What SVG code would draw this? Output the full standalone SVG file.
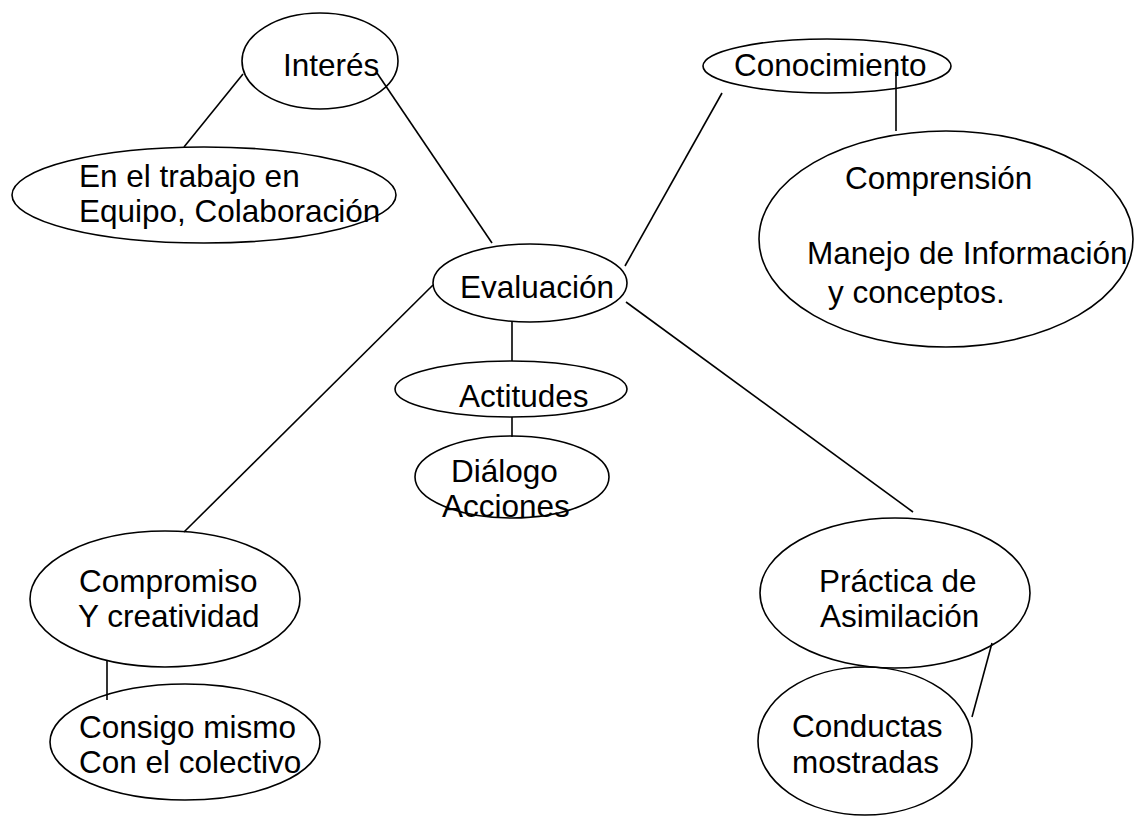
<svg xmlns="http://www.w3.org/2000/svg" width="1134" height="817" viewBox="0 0 1134 817">
<style>
.n ellipse{fill:none;stroke:#000;stroke-width:1.6}
.c line{stroke:#000;stroke-width:1.6}
text{font-family:"Liberation Sans",Arial,sans-serif;font-size:31.5px;fill:#000}
</style>
<rect width="1134" height="817" fill="#fff"/>
<g class="c" id="connectors">
<line x1="243" y1="74" x2="184" y2="147"/>
<line x1="377" y1="73" x2="492" y2="243"/>
<line x1="722" y1="93" x2="625" y2="266"/>
<line x1="896" y1="72" x2="896" y2="131"/>
<line x1="433" y1="285" x2="184" y2="532"/>
<line x1="626" y1="302" x2="913" y2="512"/>
<line x1="512" y1="322" x2="512" y2="361"/>
<line x1="512" y1="417" x2="512" y2="437"/>
<line x1="107" y1="660" x2="107" y2="700"/>
<line x1="992" y1="643" x2="972" y2="717"/>
</g>
<g class="n" id="interes"><ellipse cx="320" cy="61" rx="78" ry="48"/><text x="283" y="76">Interés</text></g>
<g class="n" id="trabajo"><ellipse cx="204" cy="195" rx="192" ry="48"/><text x="79" y="187">En el trabajo en</text><text x="79" y="222">Equipo, Colaboración</text></g>
<g class="n" id="conocimiento"><ellipse cx="827" cy="66" rx="124" ry="27"/><text x="734" y="76">Conocimiento</text></g>
<g class="n" id="comprension"><ellipse cx="946" cy="239" rx="187" ry="108"/><text x="845" y="189">Comprensión</text><text x="807" y="264">Manejo de Información</text><text x="828" y="303">y conceptos.</text></g>
<g class="n" id="evaluacion"><ellipse cx="530" cy="283" rx="97" ry="39"/><text x="460" y="298">Evaluación</text></g>
<g class="n" id="actitudes"><ellipse cx="511" cy="389" rx="116" ry="28"/><text x="459" y="407">Actitudes</text></g>
<g class="n" id="dialogo"><ellipse cx="512" cy="477" rx="97" ry="41"/><text x="451" y="482">Diálogo</text><text x="442" y="517">Acciones</text></g>
<g class="n" id="compromiso"><ellipse cx="165" cy="599" rx="135" ry="68"/><text x="79" y="592">Compromiso</text><text x="78" y="627">Y creatividad</text></g>
<g class="n" id="consigo"><ellipse cx="185" cy="742" rx="135" ry="58"/><text x="79" y="738">Consigo mismo</text><text x="79" y="773">Con el colectivo</text></g>
<g class="n" id="practica"><ellipse cx="895" cy="593" rx="135" ry="75"/><text x="819" y="592">Práctica de</text><text x="820" y="627">Asimilación</text></g>
<g class="n" id="conductas"><ellipse cx="865" cy="741" rx="107" ry="74"/><text x="792" y="737">Conductas</text><text x="792" y="773">mostradas</text></g>
</svg>
